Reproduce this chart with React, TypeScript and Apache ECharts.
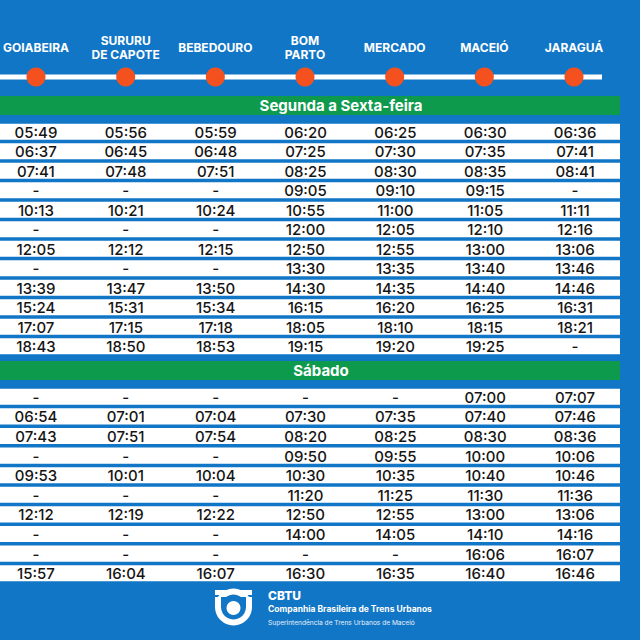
import React, { useEffect, useRef } from "react";
import * as echarts from "echarts";

const stations = ["GOIABEIRA", "SURURU\nDE CAPOTE", "BEBEDOURO", "BOM\nPARTO", "MERCADO", "MACEIÓ", "JARAGUÁ"];

const weekdayTitle = "Segunda a Sexta-feira";
const weekdayTimes = [
  ["05:49", "05:56", "05:59", "06:20", "06:25", "06:30", "06:36"],
  ["06:37", "06:45", "06:48", "07:25", "07:30", "07:35", "07:41"],
  ["07:41", "07:48", "07:51", "08:25", "08:30", "08:35", "08:41"],
  ["-", "-", "-", "09:05", "09:10", "09:15", "-"],
  ["10:13", "10:21", "10:24", "10:55", "11:00", "11:05", "11:11"],
  ["-", "-", "-", "12:00", "12:05", "12:10", "12:16"],
  ["12:05", "12:12", "12:15", "12:50", "12:55", "13:00", "13:06"],
  ["-", "-", "-", "13:30", "13:35", "13:40", "13:46"],
  ["13:39", "13:47", "13:50", "14:30", "14:35", "14:40", "14:46"],
  ["15:24", "15:31", "15:34", "16:15", "16:20", "16:25", "16:31"],
  ["17:07", "17:15", "17:18", "18:05", "18:10", "18:15", "18:21"],
  ["18:43", "18:50", "18:53", "19:15", "19:20", "19:25", "-"],
];

const saturdayTitle = "Sábado";
const saturdayTimes = [
  ["-", "-", "-", "-", "-", "07:00", "07:07"],
  ["06:54", "07:01", "07:04", "07:30", "07:35", "07:40", "07:46"],
  ["07:43", "07:51", "07:54", "08:20", "08:25", "08:30", "08:36"],
  ["-", "-", "-", "09:50", "09:55", "10:00", "10:06"],
  ["09:53", "10:01", "10:04", "10:30", "10:35", "10:40", "10:46"],
  ["-", "-", "-", "11:20", "11:25", "11:30", "11:36"],
  ["12:12", "12:19", "12:22", "12:50", "12:55", "13:00", "13:06"],
  ["-", "-", "-", "14:00", "14:05", "14:10", "14:16"],
  ["-", "-", "-", "-", "-", "16:06", "16:07"],
  ["15:57", "16:04", "16:07", "16:30", "16:35", "16:40", "16:46"],
];

const footerName = "CBTU";
const footerLine1 = "Companhia Brasileira de Trens Urbanos";
const footerLine2 = "Superintendência de Trens Urbanos de Maceió";

const BLUE = "#1176c6";
const GREEN = "#0e9a4d";
const ORANGE = "#f4511e";
const FONT = "Inter, 'Noto Sans', sans-serif";

function makeRowSeries(rows: string[][], gridIndex: number) {
  return {
    type: "custom",
    xAxisIndex: gridIndex,
    yAxisIndex: gridIndex,
    data: rows.map((_, i) => [0, i]),
    encode: { x: 0, y: 1 },
    renderItem: (params: any, api: any) => {
      const cs = params.coordSys;
      const rowIdx = params.dataIndex;
      const center = api.coord([0, rowIdx]);
      const band = api.size([0, 1])[1];
      const h = band * 0.82;
      const children: any[] = [
        {
          type: "rect",
          shape: { x: cs.x, y: center[1] - h / 2, width: cs.width, height: h },
          style: { fill: "#ffffff" },
        },
      ];
      rows[rowIdx].forEach((t, s) => {
        const p = api.coord([s, rowIdx]);
        children.push({
          type: "text",
          x: p[0],
          y: p[1] + 0.5,
          style: {
            text: t,
            fill: "#151515",
            fontSize: 15,
            fontWeight: 500,
            fontFamily: FONT,
            align: "center",
            verticalAlign: "middle",
          },
        });
      });
      return { type: "group", children };
    },
    z: 3,
  };
}

export default function App() {
  const ref = useRef<HTMLDivElement>(null);
  useEffect(() => {
    document.body.style.margin = "0";
    const chart = echarts.init(ref.current!, null, { renderer: "svg" });
    const valueX = (gi: number) => ({
      type: "value",
      gridIndex: gi,
      min: -0.4,
      max: 6.5,
      show: false,
    });
    const rowY = (gi: number, n: number) => ({
      type: "category",
      gridIndex: gi,
      inverse: true,
      data: Array.from({ length: n }, (_, i) => String(i)),
      show: false,
    });
    chart.setOption({
      animation: false,
      backgroundColor: BLUE,
      grid: [
        { left: 36, right: 66, top: 70, height: 14 },
        { left: 0, right: 20, top: 122, height: 234 },
        { left: 0, right: 20, top: 387, height: 196 },
      ],
      xAxis: [
        {
          type: "category",
          gridIndex: 0,
          data: stations,
          boundaryGap: false,
          position: "top",
          axisLine: { show: false },
          axisTick: { show: false },
          splitLine: { show: false },
          axisLabel: {
            interval: 0,
            color: "#ffffff",
            fontSize: 12,
            fontWeight: 700,
            fontFamily: FONT,
            lineHeight: 14,
            margin: 23,
            verticalAlign: "middle",
            align: "center",
          },
        },
        valueX(1),
        valueX(2),
      ],
      yAxis: [
        { type: "category", gridIndex: 0, data: ["track"], show: false },
        rowY(1, weekdayTimes.length),
        rowY(2, saturdayTimes.length),
      ],
      series: [
        {
          type: "scatter",
          xAxisIndex: 0,
          yAxisIndex: 0,
          symbol: "circle",
          symbolSize: 19,
          itemStyle: { color: ORANGE, opacity: 1 },
          data: stations.map((_, i) => [i, 0]),
          z: 5,
        },
        makeRowSeries(weekdayTimes, 1),
        makeRowSeries(saturdayTimes, 2),
      ],
      graphic: [
        {
          type: "line",
          z: 1,
          shape: { x1: 0, y1: 77, x2: 602, y2: 77 },
          style: { stroke: "#ffffff", lineWidth: 5 },
        },
        {
          type: "rect",
          z: 1,
          shape: { x: 0, y: 96, width: 620, height: 19 },
          style: { fill: GREEN },
        },
        {
          type: "text",
          z: 2,
          x: 341,
          y: 105.5,
          style: {
            text: weekdayTitle,
            fill: "#ffffff",
            fontSize: 15,
            fontWeight: 700,
            fontFamily: FONT,
            align: "center",
            verticalAlign: "middle",
          },
        },
        {
          type: "rect",
          z: 1,
          shape: { x: 0, y: 361, width: 620, height: 19 },
          style: { fill: GREEN },
        },
        {
          type: "text",
          z: 2,
          x: 321,
          y: 370.5,
          style: {
            text: saturdayTitle,
            fill: "#ffffff",
            fontSize: 15,
            fontWeight: 700,
            fontFamily: FONT,
            align: "center",
            verticalAlign: "middle",
          },
        },
        // logo
        {
          type: "group",
          z: 2,
          children: [
            { type: "rect", shape: { x: 215, y: 590, width: 37, height: 5 }, style: { fill: "#ffffff" } },
            { type: "rect", shape: { x: 215, y: 597, width: 37, height: 10 }, style: { fill: "#ffffff" } },
            { type: "circle", shape: { cx: 233.5, cy: 607, r: 18.5 }, style: { fill: "#ffffff" } },
            { type: "rect", shape: { x: 221, y: 597, width: 25, height: 10 }, style: { fill: BLUE } },
            { type: "circle", shape: { cx: 233.5, cy: 607, r: 12.5 }, style: { fill: BLUE } },
            { type: "circle", shape: { cx: 233.5, cy: 608, r: 7 }, style: { fill: "#ffffff" } },
          ],
        },
        {
          type: "text",
          z: 2,
          x: 268,
          y: 595,
          style: {
            text: footerName,
            fill: "#ffffff",
            fontSize: 12,
            fontWeight: 800,
            fontFamily: FONT,
            align: "left",
            verticalAlign: "middle",
          },
        },
        {
          type: "text",
          z: 2,
          x: 268,
          y: 609,
          style: {
            text: footerLine1,
            fill: "#ffffff",
            fontSize: 8.5,
            fontWeight: 700,
            fontFamily: FONT,
            align: "left",
            verticalAlign: "middle",
          },
        },
        {
          type: "text",
          z: 2,
          x: 268,
          y: 623,
          style: {
            text: footerLine2,
            fill: "#e8f1fb",
            fontSize: 6.6,
            fontWeight: 400,
            fontFamily: FONT,
            align: "left",
            verticalAlign: "middle",
          },
        },
      ],
    });
    return () => chart.dispose();
  }, []);
  return <div ref={ref} style={{ width: 640, height: 640 }} />;
}
